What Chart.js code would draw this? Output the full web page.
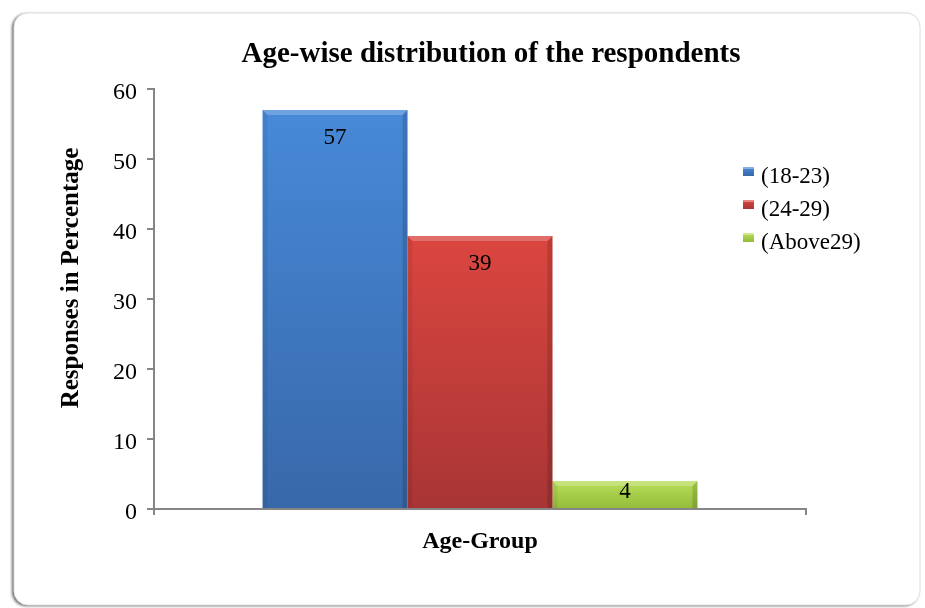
<!DOCTYPE html>
<html>
<head>
<meta charset="utf-8">
<script src="https://cdn.jsdelivr.net/npm/chart.js@4.4.1/dist/chart.umd.min.js"></script>
<style>
  html, body { margin: 0; padding: 0; background: #fff; }
  canvas { display: block; }
</style>
</head>
<body>
<canvas id="chart" width="925" height="608"></canvas>
<script>
// ---- data ----
const chartTitle = 'Age-wise distribution of the respondents';
const categories = ['Age-Group'];
const xTitle = 'Age-Group';
const yTitle = 'Responses in Percentage';
const seriesNames = ['(18-23)', '(24-29)', '(Above29)'];
const seriesValues = [57, 39, 4];
const yTicks = [0, 10, 20, 30, 40, 50, 60];

// ---- styling ----
const SERIF = '"Liberation Serif", "Times New Roman", serif';
const AXIS_GREY = '#868686';
const seriesColors = [
  { top: '#4789d8', bottom: '#3868a9', edge: '#2f5d98' },
  { top: '#db463f', bottom: '#a83535', edge: '#8e2c2c' },
  { top: '#b9df5a', bottom: '#93ba39', edge: '#7d9f2e' }
];

// vertical gradient per bar, from the bar top down to its base
function barFill(ctx) {
  const col = seriesColors[ctx.datasetIndex];
  const chart = ctx.chart;
  const y = chart.scales && chart.scales.y;
  if (!y || !chart.chartArea || ctx.raw == null) return col.top;
  const top = y.getPixelForValue(ctx.raw);
  const base = y.getPixelForValue(0);
  if (!isFinite(top) || !isFinite(base) || base === top) return col.top;
  const g = chart.ctx.createLinearGradient(0, top, 0, base);
  g.addColorStop(0, col.top);
  g.addColorStop(1, col.bottom);
  return g;
}

// rounded panel behind the whole chart
const panelPlugin = {
  id: 'panel',
  beforeDraw(chart) {
    const c = chart.ctx;
    c.save();
    c.fillStyle = '#fff';
    c.fillRect(0, 0, chart.width, chart.height);
    c.beginPath();
    c.roundRect(14, 13, 906, 592, 14);
    c.shadowColor = 'rgba(0,0,0,0.6)';
    c.shadowBlur = 3;
    c.shadowOffsetX = -2;
    c.shadowOffsetY = 1;
    c.fillStyle = '#fff';
    c.fill();
    c.shadowColor = 'transparent';
    c.strokeStyle = '#dedede';
    c.lineWidth = 1;
    c.stroke();
    c.restore();
  }
};

// bevelled edges and value labels on every bar
const barDecorPlugin = {
  id: 'barDecor',
  afterDatasetsDraw(chart) {
    const c = chart.ctx;
    c.save();
    chart.data.datasets.forEach((ds, i) => {
      const meta = chart.getDatasetMeta(i);
      meta.data.forEach((el, j) => {
        const { x, y, base, width } = el.getProps(['x', 'y', 'base', 'width'], true);
        const l = x - width / 2, r = x + width / 2, b = 5;
        // top highlight
        c.fillStyle = 'rgba(255,255,255,0.22)';
        c.beginPath();
        c.moveTo(l, y); c.lineTo(r, y); c.lineTo(r - b, y + b); c.lineTo(l + b, y + b);
        c.closePath(); c.fill();
        // left shade
        c.fillStyle = 'rgba(0,0,0,0.06)';
        c.beginPath();
        c.moveTo(l, y); c.lineTo(l + b, y + b); c.lineTo(l + b, base); c.lineTo(l, base);
        c.closePath(); c.fill();
        // right shade
        c.fillStyle = 'rgba(0,0,0,0.14)';
        c.beginPath();
        c.moveTo(r, y); c.lineTo(r - b, y + b); c.lineTo(r - b, base); c.lineTo(r, base);
        c.closePath(); c.fill();

        // value label just inside the top end
        const v = ds.data[j];
        const ly = Math.min(y + 28, (y + base) / 2 - 3);
        c.fillStyle = '#000';
        c.font = '23px ' + SERIF;
        c.textAlign = 'center';
        c.textBaseline = 'middle';
        c.fillText(String(v), x, ly);
      });
    });
    c.restore();
  }
};

// chart title, vertical axis title and legend
const textPlugin = {
  id: 'texts',
  afterDraw(chart) {
    const c = chart.ctx;
    c.save();
    c.fillStyle = '#000';

    // title
    c.font = 'bold 29px ' + SERIF;
    c.textAlign = 'center';
    c.textBaseline = 'alphabetic';
    c.fillText(chartTitle, 491, 62);

    // y axis title
    c.save();
    c.translate(72, 278);
    c.rotate(-Math.PI / 2);
    c.font = 'bold 25px ' + SERIF;
    c.textAlign = 'center';
    c.textBaseline = 'middle';
    c.fillText(yTitle, 0, 0);
    c.restore();

    // legend
    const lx = 743, ly0 = 177, step = 33;
    chart.data.datasets.forEach((ds, i) => {
      const col = seriesColors[i];
      const cy = ly0 + i * step;
      const bx = lx, by = cy - 10, bw = 11, bh = 9;
      const g = c.createLinearGradient(0, by, 0, by + bh);
      g.addColorStop(0, col.top);
      g.addColorStop(1, col.bottom);
      c.fillStyle = g;
      c.fillRect(bx, by, bw, bh);
      c.fillStyle = 'rgba(255,255,255,0.35)';
      c.fillRect(bx, by, bw, 2);
      c.fillStyle = '#000';
      c.font = '23px ' + SERIF;
      c.textAlign = 'left';
      c.textBaseline = 'middle';
      c.fillText(ds.label, 761, cy);
    });
    c.restore();
  }
};

const datasets = seriesNames.map((name, i) => ({
  label: name,
  data: [seriesValues[i]],
  backgroundColor: barFill,
  borderColor: seriesColors[i].edge,
  borderWidth: 0,
  barPercentage: 1.0,
  categoryPercentage: 0.667
}));

new Chart(document.getElementById('chart'), {
  type: 'bar',
  data: { labels: categories, datasets },
  options: {
    responsive: false,
    animation: false,
    layout: { padding: { top: 89, right: 119, bottom: 0, left: 0 } },
    plugins: {
      legend: { display: false },
      title: { display: false },
      tooltip: { enabled: false }
    },
    scales: {
      x: {
        grid: {
          display: true,
          drawOnChartArea: false,
          drawTicks: true,
          tickLength: 6,
          color: AXIS_GREY,
          lineWidth: 2,
          offset: true
        },
        border: { display: true, color: AXIS_GREY, width: 2 },
        ticks: { display: false },
        title: {
          display: true,
          text: xTitle,
          color: '#000',
          font: { family: SERIF, size: 24, weight: 'bold' },
          padding: { top: 0, bottom: 52 }
        },
        afterFit(scale) { scale.height = 99; }
      },
      y: {
        min: yTicks[0],
        max: yTicks[yTicks.length - 1],
        grid: {
          display: true,
          drawOnChartArea: false,
          drawTicks: true,
          tickLength: 7,
          color: AXIS_GREY,
          lineWidth: 2
        },
        border: { display: true, color: AXIS_GREY, width: 2 },
        ticks: {
          stepSize: yTicks[1] - yTicks[0],
          color: '#000',
          padding: 10,
          labelOffset: 4,
          font: { family: SERIF, size: 24 }
        },
        title: { display: false },
        afterFit(scale) { scale.width = 154; }
      }
    }
  },
  plugins: [panelPlugin, barDecorPlugin, textPlugin]
});
</script>
</body>
</html>
